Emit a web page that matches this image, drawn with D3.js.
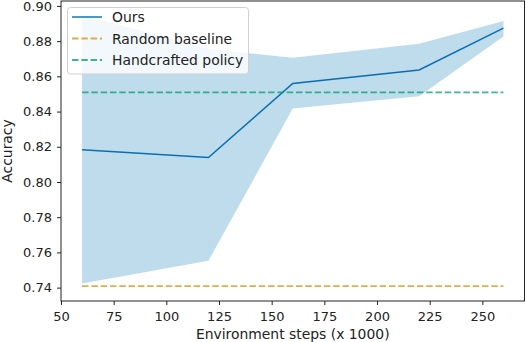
<!DOCTYPE html>
<html><head><meta charset="utf-8">
<script src="https://cdn.jsdelivr.net/npm/d3@7"></script>
<style>body{margin:0;background:#fff}svg{display:block}text{font-family:"DejaVu Sans",sans-serif;fill:#222}</style>
</head><body>
<script>
const steps = [60, 120, 160, 220, 260];
const oursMean = [0.8183, 0.8139, 0.856, 0.8636, 0.8874];
const oursUpper = [0.895, 0.8755, 0.8705, 0.8785, 0.8915];
const oursLower = [0.7423, 0.7553, 0.8417, 0.8487, 0.8827];
const randomBaseline = 0.7408;
const handcrafted = 0.8509;
const xTicks = [50, 75, 100, 125, 150, 175, 200, 225, 250];
const yTicks = [0.74, 0.76, 0.78, 0.80, 0.82, 0.84, 0.86, 0.88, 0.90];
const legendLabels = ["Ours", "Random baseline", "Handcrafted policy"];

const W = 526, H = 342;
const m = {left: 61, right: 524.5, top: 1, bottom: 301};
const svg = d3.select("body").append("svg").attr("width", W).attr("height", H);
const x = d3.scaleLinear().domain([50, 270]).range([m.left, m.right]);
const y = d3.scaleLinear().domain([0.7324, 0.9028]).range([m.bottom, m.top]);

const blue = "#0173b2", orange = "#de8f05", green = "#029e73";
const data = steps.map((s, i) => ({s, mean: oursMean[i], lo: oursLower[i], hi: oursUpper[i]}));

svg.append("path").datum(data)
  .attr("d", d3.area().x(d => x(d.s)).y0(d => y(d.lo)).y1(d => y(d.hi)))
  .attr("fill", blue).attr("fill-opacity", 0.25);

svg.append("path").datum(data)
  .attr("d", d3.line().x(d => x(d.s)).y(d => y(d.mean)))
  .attr("fill", "none").attr("stroke", "#0a6fb0").attr("stroke-width", 1.6);

const x0 = steps[0], x1 = steps[steps.length - 1];
[[randomBaseline, orange], [handcrafted, green]].forEach(([v, c]) => {
  svg.append("line").attr("x1", x(x0)).attr("x2", x(x1)).attr("y1", y(v)).attr("y2", y(v))
    .attr("stroke", c).attr("stroke-opacity", 0.75).attr("stroke-width", 1.8)
    .attr("stroke-dasharray", "6.5,2.8");
});

// axes
const xAxis = svg.append("g").attr("transform", `translate(0,${m.bottom})`)
  .call(d3.axisBottom(x).tickValues(xTicks).tickFormat(d3.format("d")).tickSize(4).tickPadding(4));
const yAxis = svg.append("g").attr("transform", `translate(${m.left},0)`)
  .call(d3.axisLeft(y).tickValues(yTicks).tickFormat(d3.format(".2f")).tickSize(4).tickPadding(5));
[xAxis, yAxis].forEach(g => {
  g.select(".domain").remove();
  g.selectAll("line").attr("stroke", "#222");
  g.selectAll("text").attr("font-size", 13).attr("font-family", "DejaVu Sans").attr("fill", "#222");
});
xAxis.selectAll("text").attr("dy", "0.9em");
// frame
svg.append("rect").attr("x", m.left).attr("y", m.top).attr("width", m.right - m.left).attr("height", m.bottom - m.top)
  .attr("fill", "none").attr("stroke", "#222").attr("stroke-width", 1);

svg.append("text").attr("x", (m.left + m.right) / 2).attr("y", 338.5).attr("text-anchor", "middle")
  .attr("font-size", 13.9).text("Environment steps (x 1000)");
svg.append("text").attr("transform", `translate(12,${(m.top + m.bottom) / 2}) rotate(-90)`)
  .attr("text-anchor", "middle").attr("font-size", 13.9).text("Accuracy");

// legend
const lg = svg.append("g");
lg.append("rect").attr("x", 67.5).attr("y", 7.5).attr("width", 181).attr("height", 66.5).attr("rx", 3)
  .attr("fill", "#fff").attr("fill-opacity", 0.8).attr("stroke", "#d0d0d0").attr("stroke-width", 1);
const lcolors = [[blue, null, 0.8], [orange, "6.5,2.8", 0.75], [green, "6.5,2.8", 0.75]];
legendLabels.forEach((t, i) => {
  const yy = 17 + i * 21.5;
  lg.append("line").attr("x1", 72).attr("x2", 102).attr("y1", yy).attr("y2", yy)
    .attr("stroke", lcolors[i][0]).attr("stroke-opacity", lcolors[i][2]).attr("stroke-width", 1.8)
    .attr("stroke-dasharray", lcolors[i][1]);
  lg.append("text").attr("x", 112).attr("y", yy + 5).attr("font-size", 13.9).text(t);
});
</script>
</body></html>
